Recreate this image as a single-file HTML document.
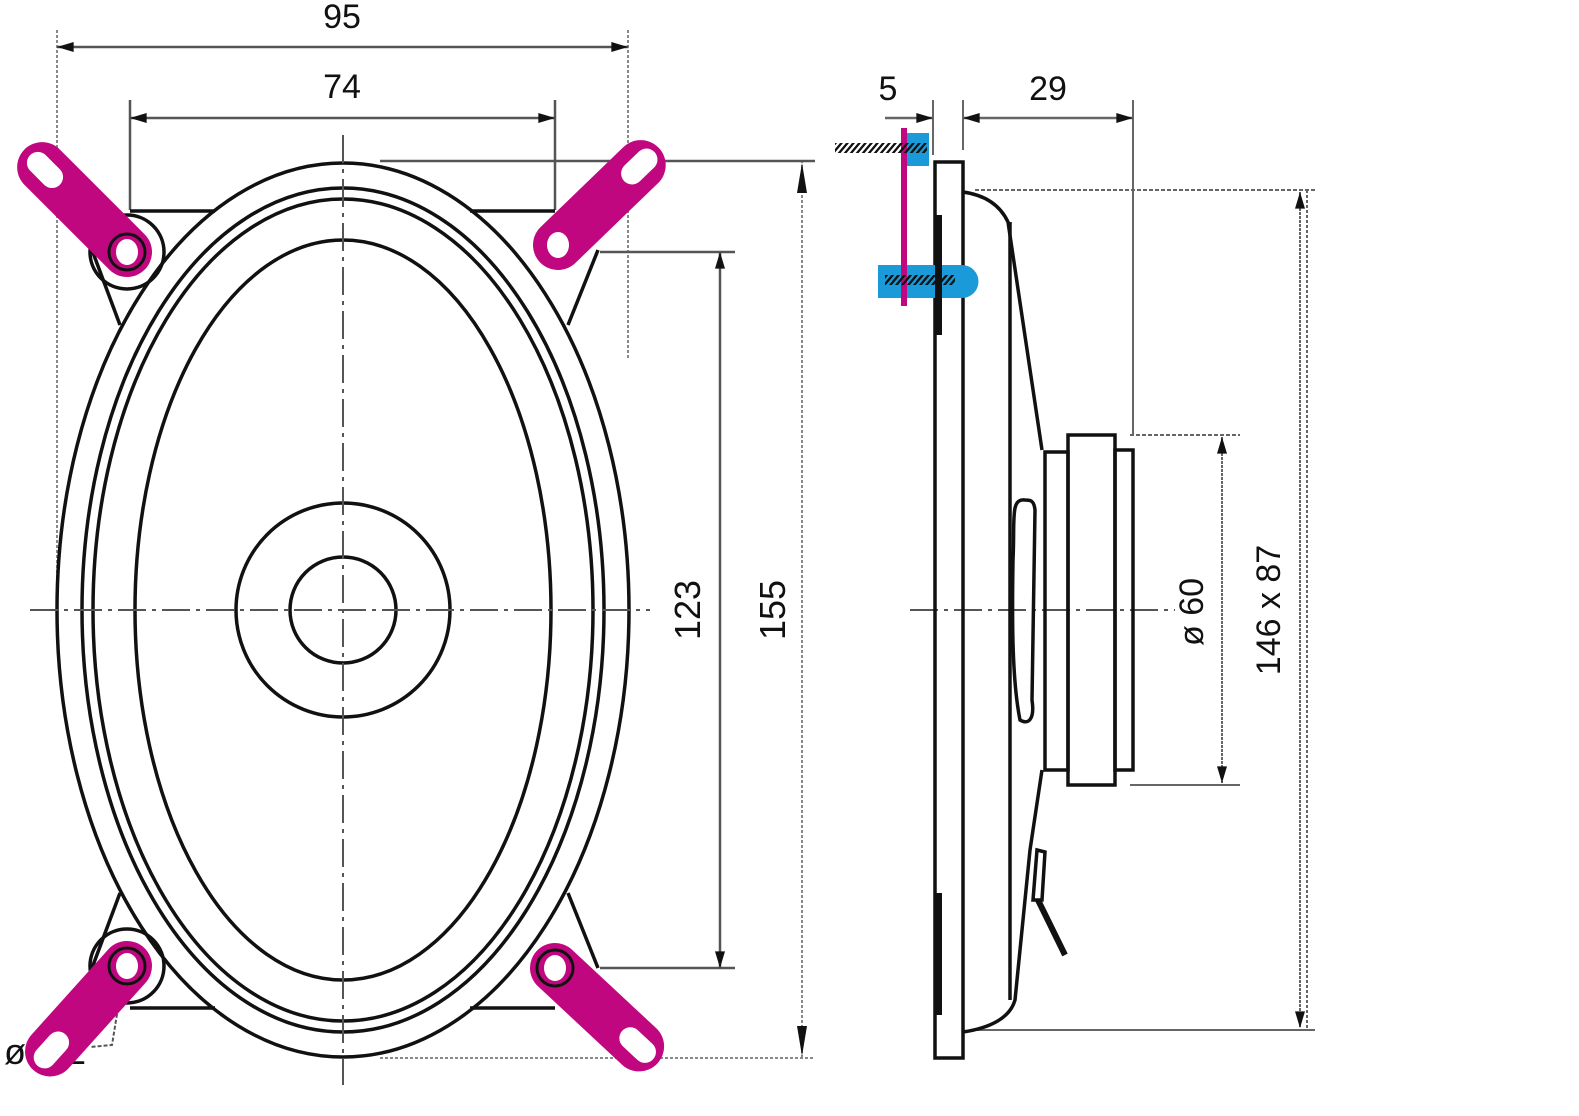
<!DOCTYPE html>
<html><head><meta charset="utf-8"><style>
html,body{margin:0;padding:0;background:#fff;}
svg{display:block;}
text{font-family:"Liberation Sans",Arial,sans-serif;fill:#111;}
</style></head><body>
<svg width="1579" height="1116" viewBox="0 0 1579 1116" xmlns="http://www.w3.org/2000/svg">
<defs>
<marker id="ar" viewBox="0 0 10 6" refX="10" refY="3" markerWidth="32" markerHeight="10" markerUnits="userSpaceOnUse" orient="auto-start-reverse">
<path d="M0,0 L10,3 L0,6 z" fill="#111"/>
</marker>
<pattern id="hatch" width="6" height="10" patternUnits="userSpaceOnUse" patternTransform="skewX(-40)">
<rect x="0" y="0" width="3" height="10" fill="#111"/>
</pattern>
</defs>
<rect width="1579" height="1116" fill="#fff"/>

<!-- extension lines front -->
<g stroke="#888" stroke-width="2" stroke-dasharray="3,2" fill="none">
<line x1="57" y1="30" x2="57" y2="620"/>
<line x1="628" y1="30" x2="628" y2="360"/>
<line x1="802" y1="160" x2="802" y2="1058"/>
<line x1="380" y1="1058" x2="815" y2="1058"/>
</g>
<g stroke="#555" stroke-width="2.5" fill="none">
<line x1="130" y1="100" x2="130" y2="210"/>
<line x1="555" y1="100" x2="555" y2="210"/>
<line x1="380" y1="161" x2="815" y2="161"/>
<line x1="600" y1="252" x2="735" y2="252"/>
<line x1="600" y1="968" x2="735" y2="968"/>
<line x1="720" y1="252" x2="720" y2="968" marker-start="url(#ar)" marker-end="url(#ar)"/>
<line x1="57" y1="47" x2="628" y2="47" marker-start="url(#ar)" marker-end="url(#ar)"/>
<line x1="130" y1="118" x2="555" y2="118" marker-start="url(#ar)" marker-end="url(#ar)"/>
</g>
<path d="M802,163 l-5,30 l10,0 z M802,1056 l-5,-30 l10,0 z" fill="#111"/>

<text x="342" y="28" font-size="34" text-anchor="middle">95</text>
<text x="342" y="98" font-size="34" text-anchor="middle">74</text>
<text transform="translate(700,610) rotate(-90)" font-size="36" text-anchor="middle">123</text>
<text transform="translate(785,610) rotate(-90)" font-size="36" text-anchor="middle">155</text>

<!-- frame plate -->
<g stroke="#111" stroke-width="3.5" fill="none">
<line x1="130" y1="211" x2="215" y2="211"/>
<line x1="470" y1="211" x2="555" y2="211"/>
<line x1="130" y1="1008" x2="215" y2="1008"/>
<line x1="470" y1="1008" x2="555" y2="1008"/>
<path d="M92,250 L120,325"/>
<path d="M598,250 L568,325"/>
<path d="M92,968 L120,893"/>
<path d="M598,968 L568,893"/>
<circle cx="127" cy="252" r="37"/>
<circle cx="127" cy="966" r="37"/>
</g>

<!-- ellipses -->
<g stroke="#111" stroke-width="3.5" fill="none">
<ellipse cx="343" cy="610" rx="286" ry="447"/>
<ellipse cx="343" cy="610" rx="261" ry="422"/>
<ellipse cx="343" cy="610" rx="250" ry="411"/>
<ellipse cx="343" cy="610" rx="208" ry="370"/>
<circle cx="343" cy="610" r="107"/>
<circle cx="343" cy="610" r="53"/>
</g>
<!-- center lines -->
<g stroke="#555" stroke-width="2" stroke-dasharray="28,6,4,6" fill="none">
<line x1="30" y1="610" x2="650" y2="610"/>
<line x1="343" y1="135" x2="343" y2="1085"/>
<line x1="910" y1="610" x2="1175" y2="610"/>
</g>

<!-- ø 3,2 label -->
<text x="4" y="1064" font-size="36">ø 3,2</text>
<path d="M118,1008 L112,1045 L90,1047" stroke="#555" stroke-width="2" fill="none" stroke-dasharray="4,2"/>

<!-- magenta tabs -->
<g fill="#c0077f">
<g transform="translate(127,252) rotate(-135)"><rect x="-25" y="-25" width="170" height="50" rx="25"/></g>
<g transform="translate(558,245) rotate(-44)"><rect x="-25" y="-25" width="165" height="50" rx="25"/></g>
<g transform="translate(127,966) rotate(132)"><rect x="-25" y="-25" width="165" height="50" rx="25"/></g>
<g transform="translate(555,968) rotate(43)"><rect x="-25" y="-25" width="165" height="50" rx="25"/></g>
</g>
<g fill="#fff">
<g transform="translate(127,252) rotate(-135)"><rect x="95" y="-11" width="42" height="22" rx="11"/></g>
<g transform="translate(558,245) rotate(-44)"><rect x="92" y="-11" width="42" height="22" rx="11"/></g>
<g transform="translate(127,966) rotate(132)"><rect x="92" y="-11" width="42" height="22" rx="11"/></g>
<g transform="translate(555,968) rotate(43)"><rect x="92" y="-11" width="42" height="22" rx="11"/></g>
<ellipse cx="127" cy="252" rx="11" ry="13"/>
<ellipse cx="558" cy="245" rx="11" ry="13"/>
<ellipse cx="127" cy="966" rx="11" ry="13"/>
<ellipse cx="555" cy="968" rx="11" ry="13"/>
</g>
<g stroke="#111" stroke-width="3" fill="none">
<circle cx="127" cy="252" r="18"/>
<circle cx="127" cy="966" r="18"/>
<circle cx="555" cy="968" r="18"/>
</g>

<!-- SIDE VIEW -->
<g stroke="#666" stroke-width="2" fill="none">
<line x1="933" y1="100" x2="933" y2="155"/>
<line x1="963" y1="100" x2="963" y2="150"/>
<line x1="1133" y1="100" x2="1133" y2="435"/>
<line x1="975" y1="190" x2="1315" y2="190" stroke-dasharray="4,2"/>
<line x1="975" y1="1030" x2="1315" y2="1030"/>
<line x1="1130" y1="435" x2="1240" y2="435" stroke-dasharray="4,2"/>
<line x1="1130" y1="785" x2="1240" y2="785"/>
<line x1="1222" y1="437" x2="1222" y2="783" stroke-dasharray="3,1" marker-start="url(#ar)" marker-end="url(#ar)"/>
<line x1="1300" y1="192" x2="1300" y2="1028" stroke-dasharray="3,1" marker-start="url(#ar)" marker-end="url(#ar)"/>
<line x1="1307" y1="190" x2="1307" y2="1030" stroke-dasharray="3,2"/>
<line x1="885" y1="118" x2="933" y2="118" stroke-width="2.5" marker-end="url(#ar)"/>
<line x1="963" y1="118" x2="1133" y2="118" stroke-width="2.5" marker-start="url(#ar)" marker-end="url(#ar)"/>
</g>
<text x="888" y="100" font-size="34" text-anchor="middle">5</text>
<text x="1048" y="100" font-size="34" text-anchor="middle">29</text>
<text transform="translate(1203,612) rotate(-90)" font-size="34" text-anchor="middle">ø 60</text>
<text transform="translate(1280,610) rotate(-90)" font-size="34" text-anchor="middle">146 x 87</text>

<g stroke="#111" stroke-width="3.5" fill="none">
<rect x="935" y="162" width="28" height="896"/>
<path d="M963,192 C985,195 1000,205 1008,222 L1042,450"/>
<path d="M1042,770 L1030,850 L1015,1000 C1010,1018 990,1028 963,1032"/>
<line x1="1010" y1="222" x2="1010" y2="1000"/>
<rect x="1068" y="435" width="47" height="350"/>
<rect x="1115" y="450" width="18" height="320"/>
<rect x="1045" y="452" width="23" height="318"/>
<path d="M1025,500 C1010,498 1015,520 1013,560 C1012,620 1012,680 1020,720 C1028,725 1035,720 1032,700 L1035,510 C1034,500 1030,500 1025,500 Z"/>
<path d="M1037,850 L1045,852 L1042,900 L1033,900 Z"/>
</g>
<line x1="1038" y1="900" x2="1065" y2="955" stroke="#111" stroke-width="6"/>
<rect x="936" y="215" width="6" height="120" fill="#111"/>
<rect x="936" y="893" width="6" height="122" fill="#111"/>

<!-- blue / magenta mounting detail -->
<rect x="905" y="133" width="24" height="33" fill="#1a9ad8"/>
<path d="M878,265 L962,265 A16,16 0 0 1 962,298 L878,298 Z" fill="#1a9ad8"/>
<rect x="935" y="265" width="7" height="70" fill="#111"/>
<rect x="901" y="128" width="6" height="178" fill="#c0077f"/>
<rect x="835" y="143" width="92" height="10" fill="url(#hatch)"/>
<rect x="885" y="275" width="70" height="10" fill="url(#hatch)"/>
</svg>
</body></html>
